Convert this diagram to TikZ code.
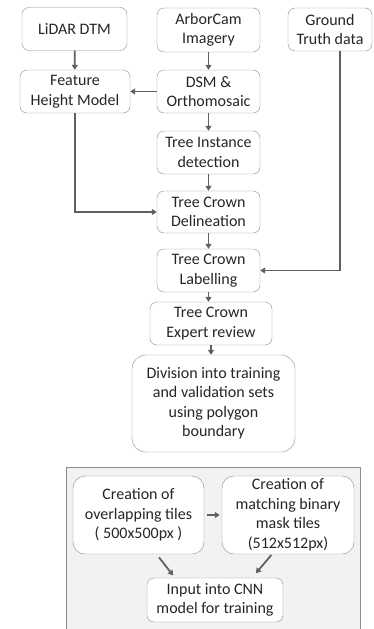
\documentclass[tikz,border=0pt]{standalone}
\usepackage{fontspec}
\setmainfont{Carlito}
\usetikzlibrary{arrows.meta}
\definecolor{boxline}{HTML}{8C8C8C}
\definecolor{arrowline}{HTML}{606060}
\definecolor{panelfill}{HTML}{F2F2F2}
\definecolor{txt}{HTML}{262626}
\begin{document}
\begin{tikzpicture}[x=1pt,y=-1pt,
        every node/.style={draw=boxline,rounded corners=7pt,align=center,text=txt,
          font=\fontsize{16}{19.5}\selectfont,inner sep=1pt,fill=white}]
        \tikzset{edge/.style = {-{Triangle[length=5pt,width=6pt]},line width=1.8pt,draw=arrowline}}
        \useasboundingbox (0,0) rectangle (374,629);
        \fill[panelfill,draw=boxline,line width=1pt] (66,467) rectangle (360,640);

        \node[minimum width=105pt,minimum height=43pt] (lidar) at (74.5,29) {LiDAR DTM};
        \node[minimum width=103pt,minimum height=44pt] (arbor) at (208.5,30) {ArborCam\\Imagery};
        \node[minimum width=84pt,minimum height=43pt] (ground) at (330,29.5) {Ground\\Truth data};
        \node[minimum width=110pt,minimum height=43pt] (feature) at (75,91.5) {Feature\\Height Model};
        \node[minimum width=103pt,minimum height=43pt] (dsm) at (208.5,91.5) {DSM \&\\Orthomosaic};
        \node[minimum width=103pt,minimum height=43pt] (instance) at (208.5,152.5) {Tree Instance\\detection};
        \node[minimum width=103pt,minimum height=42pt] (delin) at (208.5,212) {Tree Crown\\Delineation};
        \node[minimum width=103pt,minimum height=43pt] (labelling) at (208.5,270.5) {Tree Crown\\Labelling};
        \node[minimum width=122pt,minimum height=43pt] (expert) at (211,323.5) {Tree Crown\\Expert review};
        \node[minimum width=163pt,minimum height=97pt,rounded corners=14pt] (division) at (213.5,403.5)
          {Division into training\\and validation sets\\using polygon\\boundary};
        \node[minimum width=131pt,minimum height=78pt,rounded corners=12pt] (overlap) at (138.5,515)
          {Creation of\\overlapping tiles\\( 500x500px )};
        \node[minimum width=132pt,minimum height=78pt,rounded corners=12pt] (mask) at (288,515)
          {Creation of\\matching binary\\mask tiles\\(512x512px)};
        \node[minimum width=136pt,minimum height=44pt] (cnn) at (215,600) {Input into CNN\\model for training};

        \draw[edge] (lidar) to (feature);
        \draw[edge] (arbor) to (dsm);
        \draw[edge] (dsm) to (feature);
        \draw[edge] (dsm) to (instance);
        \draw[edge] (instance) to (delin);
        \draw[edge] (feature.south) |- (delin.west);
        \draw[edge] ([xshift=10pt]ground.south) |- (labelling.east);
        \draw[edge] (delin) to (labelling);
        \draw[edge] (labelling) to (labelling |- expert.north);
        \draw[edge] (expert) to (expert |- division.north);
        \draw[edge,shorten <=3pt,shorten >=2pt] (overlap) to (mask);
        \draw[edge,shorten <=4pt,shorten >=3pt] ([xshift=18pt]overlap.south) to ([xshift=-40pt]cnn.north);
        \draw[edge,shorten <=1pt,shorten >=6pt] ([xshift=-16pt]mask.south) to ([xshift=37pt]cnn.north);
\end{tikzpicture}
\end{document}
